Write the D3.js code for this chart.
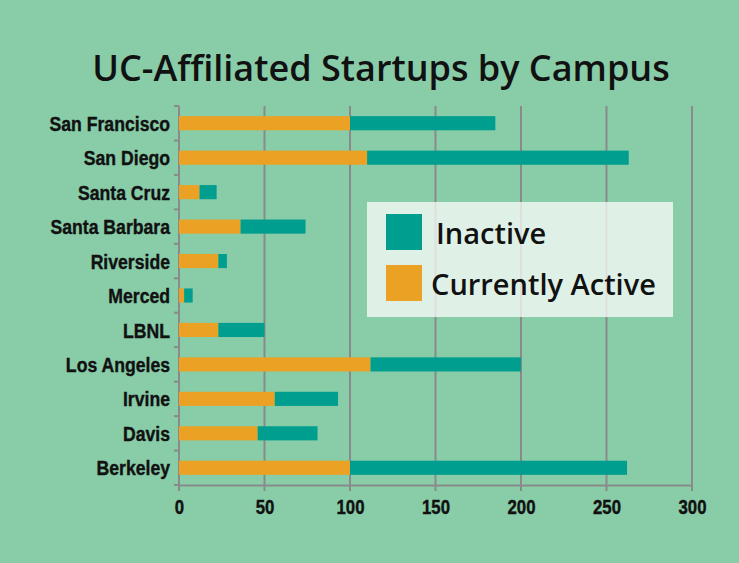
<!DOCTYPE html>
<html>
<head>
<meta charset="utf-8">
<script src="https://cdn.jsdelivr.net/npm/d3@7"></script>
<style>
	body { margin: 0; background: #88cca8; }
	svg { display: block; }
</style>
</head>
<body>
<div class="chart"></div>
<script>
	// data
	var campuses = ["San Francisco", "San Diego", "Santa Cruz", "Santa Barbara", "Riverside",
		"Merced", "LBNL", "Los Angeles", "Irvine", "Davis", "Berkeley"];
	var active = [100, 110, 12, 36, 23, 3, 23, 112, 56, 46, 100];
	var inactive = [85, 153, 10, 38, 5, 5, 27, 88, 37, 35, 162];
	var xTicks = [0, 50, 100, 150, 200, 250, 300];
	var seriesKeys = ["active", "inactive"];
	var legendLabels = ["Inactive", "Currently Active"];

	var width = 739,
		height = 563;

	var colors = { active: "#eba224", inactive: "#009e8f" };
	// no narrow face installed, so squeeze Liberation Sans
	var narrow = "'Liberation Sans', Arial, sans-serif";
	var squeeze = 0.84;
	var round = "'Open Sans', Lato, sans-serif";

	// set SVG canvass
	var svg = d3.select(".chart")
		.append("svg")
			.attr("width", width)
			.attr("height", height);

	svg.append("rect")
		.attr("width", width)
		.attr("height", height)
		.attr("fill", "#88cca8");

	// scales
	var x = d3.scaleLinear()
		.domain([0, 300])
		.range([179, 692]);

	var y = d3.scaleBand()
		.domain(campuses)
		.range([106, 485])
		.paddingInner(0.59)
		.paddingOuter(0.295);

	// title
	svg.append("text")
		.attr("x", 381)
		.attr("y", 81)
		.attr("text-anchor", "middle")
		.attr("font-family", round)
		.attr("font-weight", "600")
		.attr("font-size", "36px")
		.attr("fill", "#111")
		.text("UC-Affiliated Startups by Campus");

	// gridlines
	svg.append("g")
		.selectAll("line")
		.data(xTicks)
		.enter().append("line")
			.attr("x1", function(d) { return x(d); })
			.attr("x2", function(d) { return x(d); })
			.attr("y1", 106)
			.attr("y2", 491)
			.attr("stroke", "#8a8a8a")
			.attr("stroke-width", 2);

	// x axis
	var xAxis = svg.append("g")
		.attr("transform", "translate(0," + 485 + ")")
		.call(d3.axisBottom(x).tickValues(xTicks).tickSize(0).tickPadding(0));
	xAxis.select(".domain")
		.attr("stroke", "#8a8a8a")
		.attr("stroke-width", 2);
	xAxis.selectAll("text")
		.attr("y", 0)
		.attr("dy", 0)
		.attr("transform", "translate(0,29) scale(" + squeeze + ",1)")
		.attr("font-family", narrow)
		.attr("font-weight", "bold")
		.attr("font-size", "20px")
		.attr("fill", "#111")
		.attr("stroke", "#111")
		.attr("stroke-width", 0.4);

	// y axis
	var yAxis = svg.append("g");
	yAxis.append("line")
		.attr("x1", 179)
		.attr("x2", 179)
		.attr("y1", 106)
		.attr("y2", 491)
		.attr("stroke", "#8a8a8a")
		.attr("stroke-width", 2);
	yAxis.selectAll(".ytick")
		.data(d3.range(campuses.length + 1))
		.enter().append("line")
			.attr("class", "ytick")
			.attr("x1", 174)
			.attr("x2", 179)
			.attr("y1", function(i) { return y.range()[0] + i * y.step(); })
			.attr("y2", function(i) { return y.range()[0] + i * y.step(); })
			.attr("stroke", "#8a8a8a")
			.attr("stroke-width", 2);
	yAxis.selectAll(".ylabel")
		.data(campuses)
		.enter().append("text")
			.attr("class", "ylabel")
			.attr("transform", function(d) {
				return "translate(170," + (y(d) + y.bandwidth() / 2) + ") scale(" + squeeze + ",1)";
			})
			.attr("dy", "0.36em")
			.attr("text-anchor", "end")
			.attr("font-family", narrow)
			.attr("font-weight", "bold")
			.attr("font-size", "21px")
			.attr("fill", "#111")
			.attr("stroke", "#111")
			.attr("stroke-width", 0.4)
			.text(function(d) { return d; });

	// stacked bars
	var rows = campuses.map(function(c, i) {
		return { campus: c, active: active[i], inactive: inactive[i] };
	});
	var stacked = d3.stack().keys(seriesKeys)(rows);

	svg.append("g")
		.selectAll("g")
		.data(stacked)
		.enter().append("g")
			.attr("fill", function(d) { return colors[d.key]; })
		.selectAll("rect")
		.data(function(d) { return d; })
		.enter().append("rect")
			.attr("x", function(d) { return x(d[0]); })
			.attr("y", function(d) { return y(d.data.campus); })
			.attr("width", function(d) { return x(d[1]) - x(d[0]); })
			.attr("height", y.bandwidth());

	// legend
	var legend = svg.append("g");
	legend.append("rect")
		.attr("x", 367)
		.attr("y", 202)
		.attr("width", 306)
		.attr("height", 115)
		.attr("fill", "#ffffff")
		.attr("opacity", 0.73);

	legendLabels.forEach(function(label, i) {
		var key = i == 0 ? "inactive" : "active";
		var row = legend.append("g")
			.attr("transform", "translate(386, " + (214 + i * 51) + ")");
		row.append("rect")
			.attr("width", 36)
			.attr("height", 36)
			.attr("fill", colors[key]);
		row.append("text")
			.attr("x", i == 0 ? 50 : 45)
			.attr("y", 30)
			.attr("font-family", round)
			.attr("font-weight", "600")
			.attr("font-size", "29px")
			.attr("fill", "#111")
			.text(label);
	});
</script>
</body>
</html>
